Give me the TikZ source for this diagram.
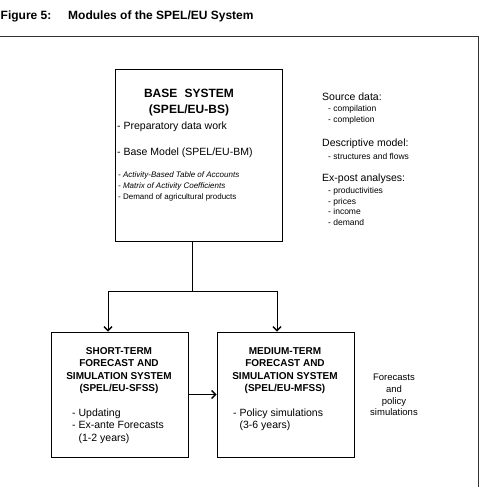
\documentclass[tikz,border=0pt]{standalone}
\usepackage{fontspec}
\setmainfont{Liberation Sans}
\usetikzlibrary{arrows.meta}
\newcommand{\fs}[2]{\fontsize{#1}{#2}\selectfont}
\tikzstyle{sysbox}=[draw, line width=.9pt, inner sep=0pt]
\tikzstyle{txt}=[inner sep=0pt, align=left]
\tikzstyle{hd}=[inner sep=0pt, align=center, font=\bfseries\fs{10}{12.4}]
\tikzstyle{conn}=[line width=.9pt, >={Straight Barb[length=4pt,width=8pt,line width=1.3pt]}]

\begin{document}
\begin{tikzpicture}[x=1pt, y=-1pt]
  \clip (0,0) rectangle (480,487);
  \draw[line width=.9pt, black!80] (-3,36) rectangle (478,492);
  \node[txt, anchor=west, font=\bfseries\fs{12}{14}] (fig) at (0.5,16) {Figure 5:};
  \node[txt, anchor=west, font=\bfseries\fs{12}{14}] (title) at (68,16) {Modules of the SPEL/EU System};

  \node[sysbox, minimum width=167pt, minimum height=172pt] (base) at (198.5,155) {};
  \node[sysbox, minimum width=137pt, minimum height=125pt] (sfss) at (119.5,394.5) {};
  \node[sysbox, minimum width=137pt, minimum height=125pt] (mfss) at (285.5,394.5) {};

  \node[hd, font=\bfseries\fs{12}{16}] (basehd) at (189,103) {BASE\hspace{.6em}SYSTEM\\(SPEL/EU-BS)};
  \node[txt, anchor=west, font=\fs{10.5}{13}] (prep) at (117,127) {- Preparatory data work};
  \node[txt, anchor=west, font=\fs{10.5}{13}] (bm) at (117,153) {- Base Model (SPEL/EU-BM)};
  \node[txt, anchor=west, font=\fs{8}{11}] (bmlist) at (118,186.5)
    {\itshape - Activity-Based Table of Accounts\\\itshape - Matrix of Activity Coefficients\\- Demand of agricultural products};

  \node[txt, anchor=west, font=\fs{10.5}{13}] (src) at (322,97) {Source data:};
  \node[txt, anchor=west, font=\fs{8.5}{11}] (srclist) at (328,115) {- compilation\\- completion};
  \node[txt, anchor=west, font=\fs{10.5}{13}] (desc) at (322,144) {Descriptive model:};
  \node[txt, anchor=west, font=\fs{8.5}{11}] (desclist) at (328,156) {- structures and flows};
  \node[txt, anchor=west, font=\fs{10.5}{13}] (expost) at (322,179) {Ex-post analyses:};
  \node[txt, anchor=west, font=\fs{8.5}{10.7}] (expostlist) at (328,206.5)
    {- productivities\\- prices\\- income\\- demand};

  \node[hd] (sfsshd) at (119,370.5) {SHORT-TERM\\FORECAST AND\\SIMULATION SYSTEM\\(SPEL/EU-SFSS)};
  \node[txt, anchor=west, font=\fs{10.5}{12.5}] (sfsslist) at (72,426)
    {- Updating\\- Ex-ante Forecasts\\\phantom{- }(1-2 years)};
  \node[hd] (mfsshd) at (285,370.5) {MEDIUM-TERM\\FORECAST AND\\SIMULATION SYSTEM\\(SPEL/EU-MFSS)};
  \node[txt, anchor=west, font=\fs{10.5}{12.5}] (mfsslist) at (233,420)
    {- Policy simulations\\\phantom{- }(3-6 years)};
  \node[txt, align=center, font=\fs{9.5}{11.7}] (fcst) at (394,395) {Forecasts\\and\\policy\\simulations};

  \coordinate (split) at (192,291);
  \draw[conn] ([xshift=-6.5pt]base.south) -- (split);
  \draw[conn, ->] (split) -| ([xshift=-11.5pt]sfss.north);
  \draw[conn, ->] (split) -| ([xshift=-8.5pt]mfss.north);
  \draw[conn, ->] (sfss.east) -- (mfss.west);
\end{tikzpicture}
\end{document}
